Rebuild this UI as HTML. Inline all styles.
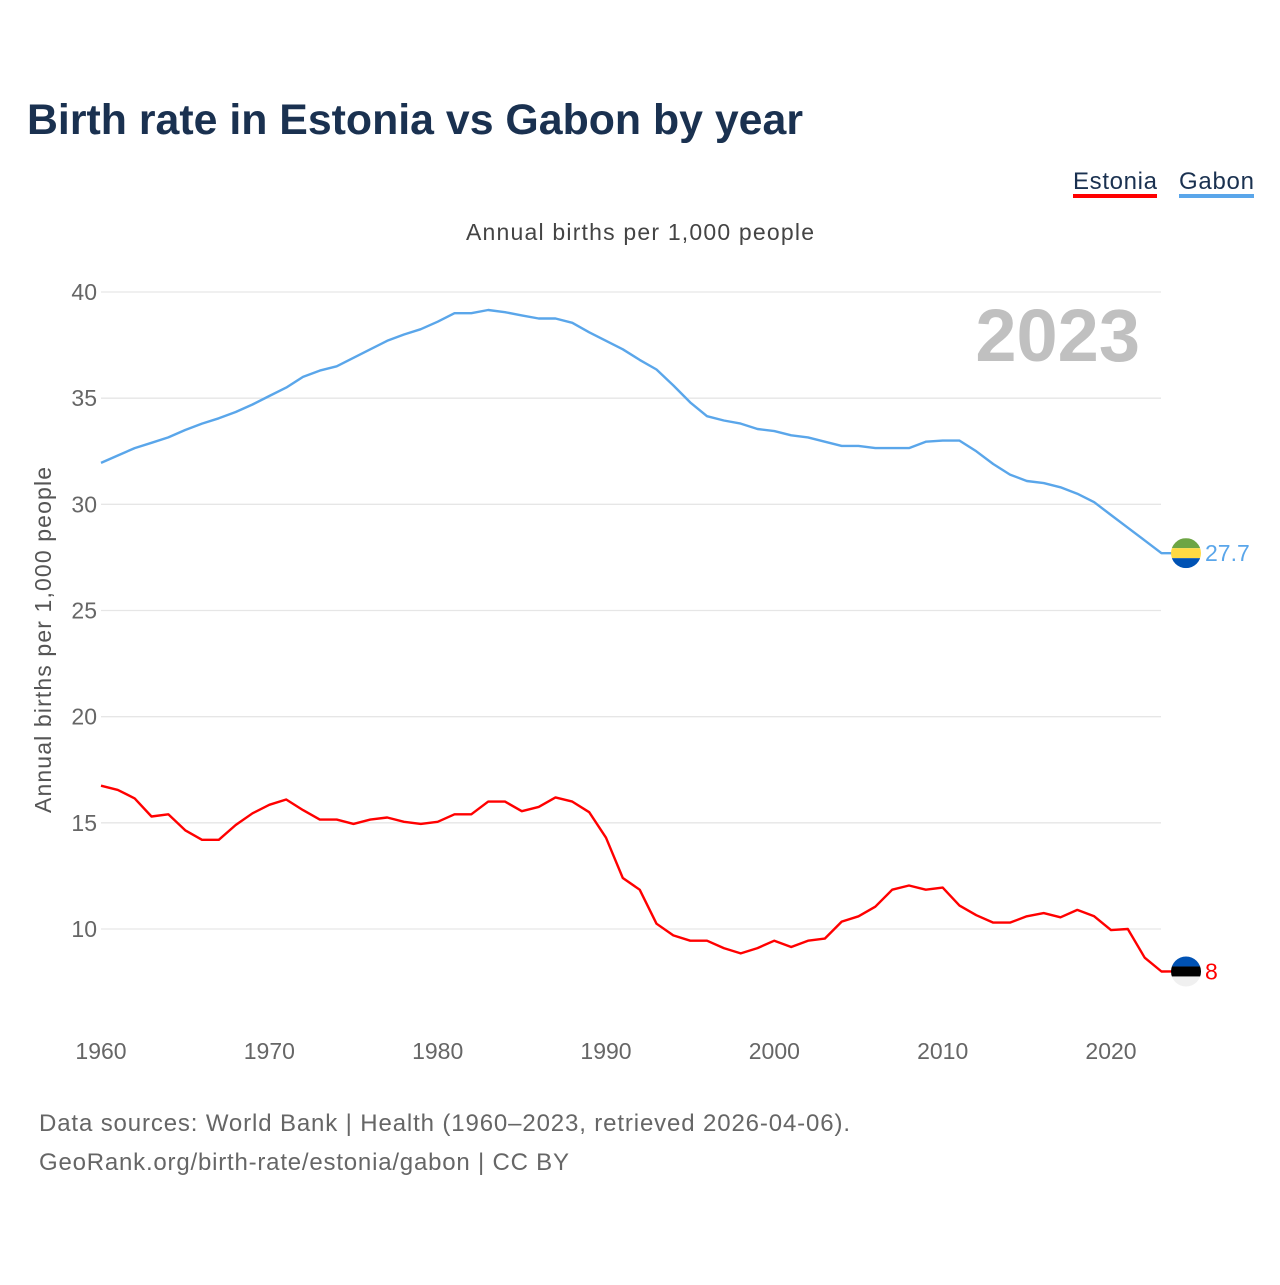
<!DOCTYPE html>
<html><head><meta charset="utf-8"><style>
body{margin:0;background:#fff;font-family:"Liberation Sans",sans-serif}
svg text{font-family:"Liberation Sans",sans-serif}
</style></head><body>
<svg id="c" width="1280" height="1280">
<text x="27" y="134" font-size="43" font-weight="bold" fill="#1a3150" textLength="776" lengthAdjust="spacingAndGlyphs">Birth rate in Estonia vs Gabon by year</text>
<g>
<text x="1073" y="189" font-size="24" fill="#1a3150" textLength="84">Estonia</text>
<rect x="1073" y="194" width="84" height="4" fill="#ff0000"/>
<text x="1179" y="189" font-size="24" fill="#1a3150" textLength="75">Gabon</text>
<rect x="1179" y="194" width="75" height="4" fill="#5aa6ea"/>
</g>
<text x="466" y="240" font-size="23" fill="#444" textLength="348">Annual births per 1,000 people</text>
<text x="1140" y="361" font-size="74" font-weight="bold" fill="#c0c0c0" text-anchor="end">2023</text>
<text transform="translate(51,640) rotate(-90)" font-size="23" fill="#555" text-anchor="middle" textLength="346">Annual births per 1,000 people</text>
<g id="grid"></g><g id="series"></g>
<text x="39" y="1131" font-size="24" fill="#666" textLength="811">Data sources: World Bank | Health (1960–2023, retrieved 2026-04-06).</text>
<text x="39" y="1170" font-size="24" fill="#666" textLength="530">GeoRank.org/birth-rate/estonia/gabon | CC BY</text>
</svg>
<script>
const years=[];for(let y=1960;y<=2023;y++)years.push(y);
const yTicks=[10,15,20,25,30,35,40];
const xTicks=[1960,1970,1980,1990,2000,2010,2020];
const gabon=[31.95,32.3,32.65,32.9,33.15,33.5,33.8,34.05,34.35,34.7,35.1,35.5,36.0,36.3,36.5,36.9,37.3,37.7,38.0,38.25,38.6,39.0,39.0,39.15,39.05,38.9,38.75,38.75,38.55,38.1,37.7,37.3,36.8,36.35,35.6,34.8,34.15,33.95,33.8,33.55,33.45,33.25,33.15,32.95,32.75,32.75,32.65,32.65,32.65,32.95,33.0,33.0,32.5,31.9,31.4,31.1,31.0,30.8,30.5,30.1,29.5,28.9,28.3,27.7];
const estonia=[16.75,16.55,16.15,15.3,15.4,14.65,14.2,14.2,14.9,15.45,15.85,16.1,15.6,15.15,15.15,14.95,15.15,15.25,15.05,14.95,15.05,15.4,15.4,16.0,16.0,15.55,15.75,16.2,16.0,15.5,14.3,12.4,11.85,10.25,9.7,9.45,9.45,9.1,8.85,9.1,9.45,9.15,9.45,9.55,10.35,10.6,11.05,11.85,12.05,11.85,11.95,11.1,10.65,10.3,10.3,10.6,10.75,10.55,10.9,10.6,9.95,10.0,8.65,8.0];
const NS='http://www.w3.org/2000/svg';
const X=y=>101+(y-1960)*(1161.5-101)/63;
const Y=v=>292+(40-v)*(929-292)/30;
function mk(t,a,p){const e=document.createElementNS(NS,t);for(const k in a)e.setAttribute(k,a[k]);p.appendChild(e);return e;}
const g=document.getElementById('grid'),s=document.getElementById('series');
yTicks.forEach(v=>{
 const l=mk('line',{x1:101,x2:1161,y1:Y(v),y2:Y(v),stroke:'#e6e6e6','stroke-width':1.3},g);
 
 
 const t=mk('text',{x:97,y:Y(v)+8,'font-size':23,fill:'#666','text-anchor':'end'},g);t.textContent=v;
 
 
});
xTicks.forEach(v=>{
 const t=mk('text',{x:X(v),y:1059,'font-size':23,fill:'#666','text-anchor':'middle'},g);t.textContent=v;
 
 
});
function series(data,color,name,flag){
 let d=data.map((v,i)=>(i?'L':'M')+X(years[i]).toFixed(1)+','+Y(v).toFixed(1)).join('');
 const last=data[data.length-1];d+='L'+(X(2023)+10)+','+Y(last);
 const p=mk('path',{d:d,fill:'none',stroke:color,'stroke-width':2.4,'stroke-linejoin':'round'},s);
 
 
 const cx=1186,cy=Y(last);
 const fg=mk('g',{},s);
 
 
 const id='clip'+name;const cp=mk('clipPath',{id:id},fg);mk('circle',{cx:cx,cy:cy,r:15},cp);
 flag.forEach((c,i)=>mk('rect',{x:cx-15,y:cy-15+i*10,width:30,height:10,fill:c,'clip-path':'url(#'+id+')'},fg));
 const t=mk('text',{x:1205,y:cy+8,'font-size':23,fill:color},s);t.textContent=String(last);
 
 
}
series(gabon,'#5aa6ea','gabon',['#6da544','#ffda44','#0052b4']);
series(estonia,'#ff0000','estonia',['#0052b4','#000000','#f0f0f0']);
</script>
</body></html>
